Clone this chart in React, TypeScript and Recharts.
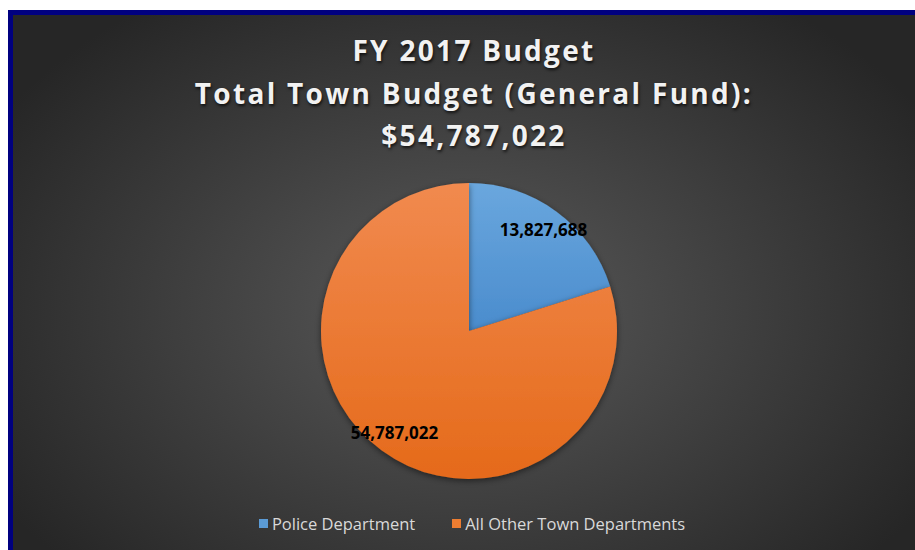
import React from "react";
import { PieChart, Pie, Cell, Legend } from "recharts";

const categories = ["Police Department", "All Other Town Departments"];
const values = [13827688, 54787022];
const labelTexts = ["13,827,688", "54,787,022"];
const titleLines = ["FY 2017 Budget", "Total Town Budget (General Fund):", "$54,787,022"];

const data = categories.map((name, i) => ({ name, value: values[i], label: labelTexts[i] }));

const fills = ["url(#gBlue)", "url(#gOrange)"];
const legendColors = ["#5B9BD5", "#ED7D31"];

const FONT = "'Open Sans', 'Noto Sans', sans-serif";

const RADIAN = Math.PI / 180;
const renderLabel = (props: any) => {
  const { cx, cy, midAngle, outerRadius, payload } = props;
  const r = outerRadius * 0.85;
  const x = cx + r * Math.cos(-midAngle * RADIAN);
  const y = cy + r * Math.sin(-midAngle * RADIAN);
  return (
    <text
      x={x}
      y={y}
      textAnchor="middle"
      dominantBaseline="central"
      fill="#000"
      fontFamily={FONT}
      fontWeight={700}
      fontSize={17}
    >
      {payload.label}
    </text>
  );
};

const renderLegend = () => (
  <div
    style={{
      display: "flex",
      justifyContent: "center",
      alignItems: "center",
      fontFamily: FONT,
      fontSize: 16.5,
      color: "#d9d9d9",
      paddingLeft: 16,
    }}
  >
    {categories.map((c, i) => (
      <div key={c} style={{ display: "flex", alignItems: "center", marginRight: i === 0 ? 37 : 0 }}>
        <span
          style={{
            display: "inline-block",
            width: 9,
            height: 9,
            background: legendColors[i],
            marginRight: 4,
          }}
        />
        <span>{c}</span>
      </div>
    ))}
  </div>
);

export default function App() {
  return (
    <div
      style={{
        position: "absolute",
        left: 8,
        top: 10,
        width: 902,
        height: 535,
        borderTop: "5px solid #000080",
        borderLeft: "5px solid #000080",
        background: "radial-gradient(ellipse 60% 70% at 50% 55%, #5a5a5a 0%, #404040 50%, #262626 100%)",
        overflow: "hidden",
      }}
    >
      <div
        style={{
          position: "absolute",
          left: 10,
          top: 14,
          width: 902,
          textAlign: "center",
          fontFamily: FONT,
          fontWeight: 700,
          fontSize: 28,
          lineHeight: "42.5px",
          letterSpacing: 2.3,
          color: "#f2f2f2",
          textShadow: "1px 2px 3px rgba(0,0,0,0.7)",
          zIndex: 2,
        }}
      >
        {titleLines.map((t) => (
          <div key={t}>{t}</div>
        ))}
      </div>
      <PieChart width={902} height={535} style={{ position: "absolute", left: 0, top: 0 }}>
        <defs>
          <linearGradient id="gBlue" x1="0" y1="0" x2="0" y2="1">
            <stop offset="0%" stopColor="#6aa7de" />
            <stop offset="100%" stopColor="#4a8ccd" />
          </linearGradient>
          <linearGradient id="gOrange" x1="0" y1="0" x2="0" y2="1">
            <stop offset="0%" stopColor="#f18a4f" />
            <stop offset="100%" stopColor="#e56a1a" />
          </linearGradient>
          <filter id="pieShadow" x="-20%" y="-20%" width="140%" height="140%">
            <feDropShadow dx="0" dy="2" stdDeviation="3" floodColor="#000" floodOpacity="0.5" />
          </filter>
        </defs>
        <Pie
          data={data}
          dataKey="value"
          nameKey="name"
          cx={451}
          cy={311}
          outerRadius={148}
          startAngle={90}
          endAngle={-270}
          stroke="none"
          isAnimationActive={false}
          labelLine={false}
          label={renderLabel}
          style={{ filter: "url(#pieShadow)" }}
        >
          {data.map((d, i) => (
            <Cell key={d.name} fill={fills[i]} />
          ))}
        </Pie>
        <Legend
          content={renderLegend}
          verticalAlign="bottom"
          wrapperStyle={{ position: "absolute", top: 497, left: 0, width: 902 }}
        />
      </PieChart>
    </div>
  );
}
